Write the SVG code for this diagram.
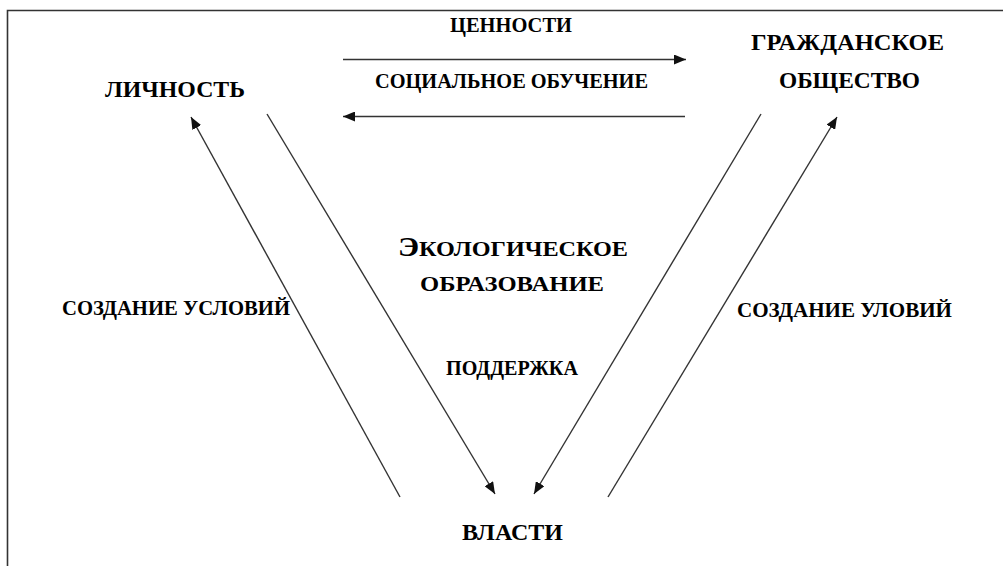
<svg xmlns="http://www.w3.org/2000/svg" width="1003" height="566" viewBox="0 0 1003 566">
<defs>
<marker id="ah" viewBox="0 0 12 10" refX="12" refY="5" markerWidth="12" markerHeight="10" markerUnits="userSpaceOnUse" orient="auto">
<path d="M0,0 L12,5 L0,10 Z" fill="#111"/>
</marker>
<style>
.t{font-family:"Liberation Serif","Times New Roman",serif;font-weight:bold;fill:#000}
.n{font-size:23px}
.e{font-size:20px}
.c line{stroke:#333;stroke-width:1.4;fill:none}
</style>
</defs>
<rect width="1003" height="566" fill="#fff"/>
<path d="M7.5,566 V10.5 H1003" fill="none" stroke="#333" stroke-width="1.6"/>
<g id="connectors" class="c">
<line x1="343" y1="59.5" x2="686" y2="59.5" marker-end="url(#ah)"/>
<line x1="685" y1="116.5" x2="343" y2="116.5" marker-end="url(#ah)"/>
<line x1="400" y1="497" x2="191" y2="117" marker-end="url(#ah)"/>
<line x1="267" y1="114" x2="495" y2="494" marker-end="url(#ah)"/>
<line x1="761" y1="114" x2="534" y2="494" marker-end="url(#ah)"/>
<line x1="608" y1="497" x2="837" y2="117" marker-end="url(#ah)"/>
</g>
<g id="node-lichnost"><text class="t n" x="105" y="97" textLength="140" lengthAdjust="spacingAndGlyphs">ЛИЧНОСТЬ</text></g>
<g id="node-obshchestvo">
<text class="t n" x="751" y="50" textLength="193" lengthAdjust="spacingAndGlyphs">ГРАЖДАНСКОЕ</text>
<text class="t n" x="779" y="88" textLength="141" lengthAdjust="spacingAndGlyphs">ОБЩЕСТВО</text>
</g>
<g id="node-vlasti"><text class="t n" x="462" y="540" textLength="101" lengthAdjust="spacingAndGlyphs">ВЛАСТИ</text></g>
<g id="node-center">
<text class="t" x="398" y="256" textLength="230" lengthAdjust="spacingAndGlyphs"><tspan font-size="27">Э</tspan><tspan font-size="21">КОЛОГИЧЕСКОЕ</tspan></text>
<text class="t" x="420" y="291" font-size="21" textLength="184" lengthAdjust="spacingAndGlyphs">ОБРАЗОВАНИЕ</text>
</g>
<g id="labels">
<text class="t e" x="450" y="32" textLength="122" lengthAdjust="spacingAndGlyphs">ЦЕННОСТИ</text>
<text class="t e" x="375" y="88" textLength="273" lengthAdjust="spacingAndGlyphs">СОЦИАЛЬНОЕ ОБУЧЕНИЕ</text>
<text class="t e" x="62" y="315" textLength="228" lengthAdjust="spacingAndGlyphs">СОЗДАНИЕ УСЛОВИЙ</text>
<text class="t e" x="446" y="375" textLength="132" lengthAdjust="spacingAndGlyphs">ПОДДЕРЖКА</text>
<text class="t e" x="737" y="317" textLength="215" lengthAdjust="spacingAndGlyphs">СОЗДАНИЕ УЛОВИЙ</text>
</g>
</svg>
